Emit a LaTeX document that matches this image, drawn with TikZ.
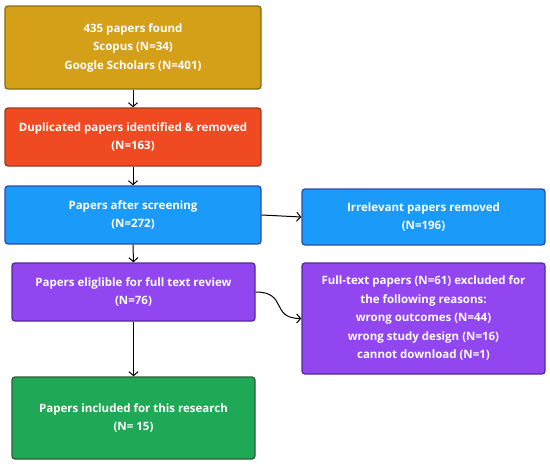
\documentclass[tikz,border=0pt]{standalone}
\usepackage{fontspec}
\setmainfont{Open Sans}
\usetikzlibrary{arrows.meta}
\definecolor{cgold}{HTML}{D4A017}
\definecolor{cgoldB}{HTML}{8A6A12}
\definecolor{cred}{HTML}{F04A23}
\definecolor{credB}{HTML}{9A3A1E}
\definecolor{cblue}{HTML}{1A9BFA}
\definecolor{cblueB}{HTML}{2E4CA8}
\definecolor{cpurp}{HTML}{9146F0}
\definecolor{cpurpB}{HTML}{55289A}
\definecolor{cgreen}{HTML}{1FA856}
\definecolor{cgreenB}{HTML}{2D5C3A}
\tikzset{
  boxbase/.style={draw, line width=1.3pt, rounded corners=3pt, inner sep=0pt,
    text=white, font=\fontsize{11.5}{18.5}\selectfont\bfseries, align=center},
  arr/.style={line width=1pt, -{Straight Barb[length=4pt,width=9pt]}}
}
\begin{document}
\begin{tikzpicture}[x=1pt,y=-1pt]
\useasboundingbox (0,0) rectangle (550,466);
\node[boxbase, fill=cgold, draw=cgoldB, minimum width=256pt, minimum height=83pt] (b1) at (133,47.5) {435 papers found\\Scopus (N=34)\\Google Scholars (N=401)};
\node[boxbase, fill=cred, draw=credB, minimum width=256pt, minimum height=58pt] (b2) at (133,137) {Duplicated papers identified \& removed\\(N=163)};
\node[boxbase, fill=cblue, draw=cblueB, minimum width=256pt, minimum height=58pt] (b3) at (133,215) {Papers after screening\\(N=272)};
\node[boxbase, fill=cblue, draw=cblueB, minimum width=243pt, minimum height=56pt] (b4) at (423.5,217) {Irrelevant papers removed\\(N=196)};
\node[boxbase, fill=cpurp, draw=cpurpB, minimum width=243pt, minimum height=58pt] (b5) at (133.5,292) {Papers eliglible for full text review\\(N=76)};
\node[boxbase, fill=cpurp, draw=cpurpB, minimum width=243pt, minimum height=111pt] (b6) at (423.5,318.5) {Full-text papers (N=61) excluded for\\the following reasons:\\wrong outcomes (N=44)\\wrong study design (N=16)\\cannot download (N=1)};
\node[boxbase, fill=cgreen, draw=cgreenB, minimum width=243pt, minimum height=82pt] (b7) at (133.5,418) {Papers included for this research\\(N= 15)};
\draw[arr] (b1.south) -- (b2.north);
\draw[arr] (b2.south) -- (b3.north);
\draw[arr] (b3.south) -- (b5.north);
\draw[arr] (b3.east) -- (b4.west);
\draw[arr] (b5.south) -- (b7.north);
\draw[arr] (b5.east) .. controls (288,292) and (270,318.5) .. (b6.west);
\end{tikzpicture}
\end{document}
